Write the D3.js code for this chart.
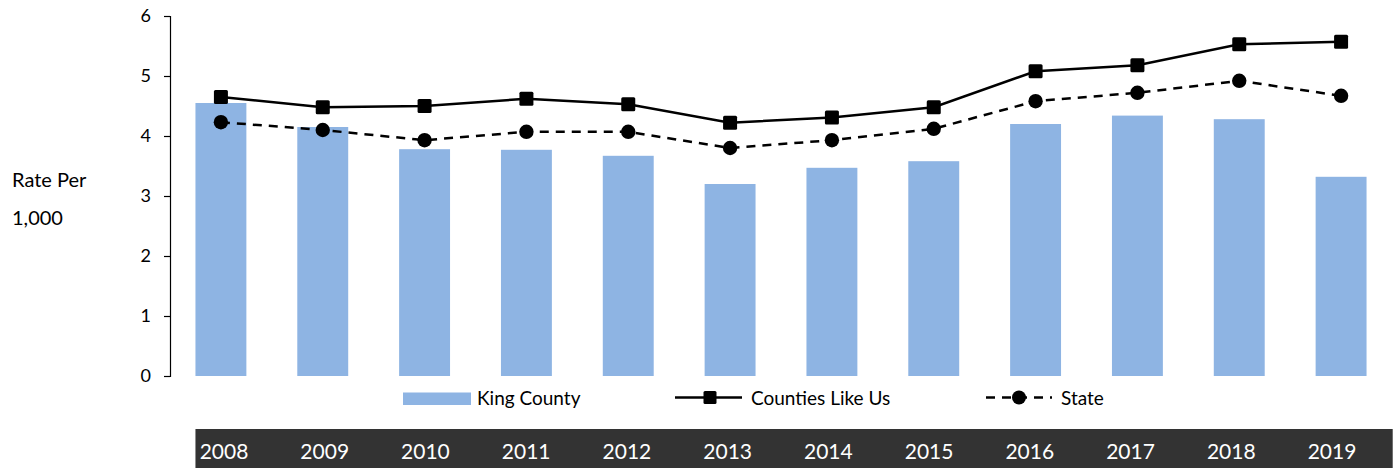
<!DOCTYPE html>
<html>
<head>
<meta charset="utf-8">
<script src="https://cdn.jsdelivr.net/npm/d3@7"></script>
<style>
  html, body { margin: 0; padding: 0; background: #fff; }
  svg { display: block; font-family: Lato, "Liberation Sans", sans-serif; }
</style>
</head>
<body>
<svg id="chart" width="1398" height="468"></svg>
<script>
const years = ["2008","2009","2010","2011","2012","2013","2014","2015","2016","2017","2018","2019"];
const kingCounty = [4.55, 4.15, 3.78, 3.77, 3.67, 3.20, 3.47, 3.58, 4.20, 4.34, 4.28, 3.32];
const countiesLikeUs = [4.65, 4.48, 4.50, 4.62, 4.53, 4.22, 4.31, 4.48, 5.08, 5.18, 5.53, 5.57];
const state = [4.23, 4.10, 3.93, 4.07, 4.07, 3.80, 3.93, 4.12, 4.58, 4.72, 4.92, 4.67];
const yTicks = [0, 1, 2, 3, 4, 5, 6];
const seriesNames = ["King County", "Counties Like Us", "State"];
const axisTitle = ["Rate Per", "1,000"];

const svg = d3.select("#chart");
const barColor = "#8EB4E3";

const x = d3.scaleBand().domain(years).range([170, 1392]).paddingInner(0.5).paddingOuter(0.25);
const y = d3.scaleLinear().domain([0, 6]).range([376, 16]);

// bars
svg.append("g").selectAll("rect").data(years).join("rect")
  .attr("x", d => x(d))
  .attr("width", x.bandwidth())
  .attr("y", (d, i) => y(kingCounty[i]))
  .attr("height", (d, i) => y(0) - y(kingCounty[i]))
  .attr("fill", barColor);

// y axis
const yAxis = d3.axisLeft(y).tickValues(yTicks).tickSize(6).tickPadding(13).tickFormat(d3.format("d"));
const gy = svg.append("g").attr("transform", "translate(170,0)").call(yAxis);
gy.select(".domain").attr("stroke", "#000").attr("stroke-width", 1.2);
gy.selectAll(".tick line").attr("stroke", "#000").attr("stroke-width", 1.2);
gy.selectAll(".tick text").attr("font-size", 18).attr("fill", "#000").attr("font-family", "Lato, sans-serif");

// axis title
svg.append("g").selectAll("text").data(axisTitle).join("text")
  .attr("x", 12).attr("y", (d, i) => 187 + i * 38)
  .attr("font-size", 20).attr("fill", "#000").text(d => d);

const cx = d => x(d) + x.bandwidth() / 2;

// lines
const line = d3.line().x(d => cx(d.year)).y(d => y(d.v));
const cData = years.map((yr, i) => ({ year: yr, v: countiesLikeUs[i] }));
const sData = years.map((yr, i) => ({ year: yr, v: state[i] }));

svg.append("path").datum(sData).attr("d", line)
  .attr("fill", "none").attr("stroke", "#000").attr("stroke-width", 2.5)
  .attr("stroke-dasharray", "9,7");
svg.append("path").datum(cData).attr("d", line)
  .attr("fill", "none").attr("stroke", "#000").attr("stroke-width", 2.5);

const sq = 14;
svg.append("g").selectAll("rect").data(cData).join("rect")
  .attr("x", d => cx(d.year) - sq / 2).attr("y", d => y(d.v) - sq / 2)
  .attr("width", sq).attr("height", sq).attr("rx", 1.5).attr("fill", "#000");
svg.append("g").selectAll("circle").data(sData).join("circle")
  .attr("cx", d => cx(d.year)).attr("cy", d => y(d.v)).attr("r", 7.2).attr("fill", "#000");

// legend
const lg = svg.append("g");
const ly = 398;
lg.append("rect").attr("x", 403).attr("y", 392.5).attr("width", 68).attr("height", 12.5).attr("fill", barColor);
lg.append("text").attr("x", 477).attr("y", ly).attr("dy", "0.35em").attr("font-size", 19).attr("fill", "#000").text(seriesNames[0]);

lg.append("line").attr("x1", 675).attr("x2", 742).attr("y1", ly - 0.5).attr("y2", ly - 0.5).attr("stroke", "#000").attr("stroke-width", 2.5);
lg.append("rect").attr("x", 703.5).attr("y", ly - 7).attr("width", 13).attr("height", 13).attr("rx", 1.5).attr("fill", "#000");
lg.append("text").attr("x", 751).attr("y", ly).attr("dy", "0.35em").attr("font-size", 19).attr("fill", "#000").text(seriesNames[1]);

lg.append("line").attr("x1", 986).attr("x2", 1052).attr("y1", ly - 0.5).attr("y2", ly - 0.5).attr("stroke", "#000").attr("stroke-width", 2.5).attr("stroke-dasharray", "9,7");
lg.append("circle").attr("cx", 1019).attr("cy", ly - 0.5).attr("r", 7).attr("fill", "#000");
lg.append("text").attr("x", 1061).attr("y", ly).attr("dy", "0.35em").attr("font-size", 19).attr("fill", "#000").text(seriesNames[2]);

// year band
svg.append("rect").attr("x", x.range()[0] + x.step() * x.paddingOuter()).attr("y", 429)
  .attr("width", 1392.7 - (x.range()[0] + x.step() * x.paddingOuter())).attr("height", 39).attr("fill", "#333333");
const lx = d3.scalePoint().domain(years).range([224, 1332]);
svg.append("g").selectAll("text").data(years).join("text")
  .attr("x", d => lx(d)).attr("y", 459).attr("text-anchor", "middle")
  .attr("font-size", 21).attr("fill", "#fff").text(d => d);
</script>
</body>
</html>
